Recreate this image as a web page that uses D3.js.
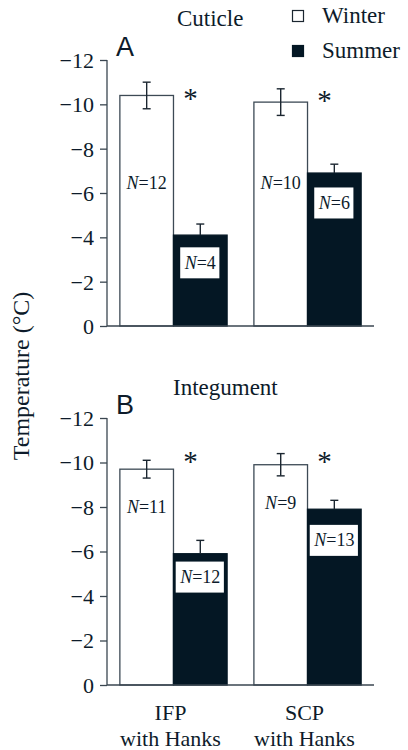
<!DOCTYPE html>
<html>
<head>
    <meta charset="utf-8">
    <title>Cuticle / Integument temperatures</title>
    <script src="https://d3js.org/d3.v7.min.js"></script>
    <style>
        body {
            margin: 0;
            background: #fff;
            overflow: hidden;
        }
        svg text {
            font-family: "Liberation Serif", "Times New Roman", serif;
            fill: #0d1b2a;
        }
        .axis path, .axis line {
            stroke: #3a4650;
            stroke-width: 1.3px;
        }
        svg text.panel-letter {
            font-family: "Liberation Sans", Arial, sans-serif;
        }
    </style>
</head>
<body>
    <svg width="408" height="750"></svg>

    <script>
    // data
    const groups = ["IFP", "SCP"];
    const seasons = ["Winter", "Summer"];
    const yTicks = [0, -2, -4, -6, -8, -10, -12];

    const cuticleWinter = [-10.4, -10.1];
    const cuticleWinterSE = [0.6, 0.6];
    const cuticleWinterN = [12, 10];
    const cuticleSummer = [-4.1, -6.9];
    const cuticleSummerSE = [0.5, 0.4];
    const cuticleSummerN = [4, 6];

    const integWinter = [-9.7, -9.9];
    const integWinterSE = [0.4, 0.5];
    const integWinterN = [11, 9];
    const integSummer = [-5.9, -7.9];
    const integSummerSE = [0.6, 0.4];
    const integSummerN = [12, 13];

    const dark = "#041724";
    const edge = "#3d4a55";

    let svg = d3.select("svg");

    // x scales shared by both panels
    let x = d3.scaleBand()
        .domain(groups)
        .range([107, 374])
        .paddingInner(0.2)
        .paddingOuter(0.096);
    let xs = d3.scaleBand()
        .domain(seasons)
        .range([0, x.bandwidth()]);

    // panel layout (label anchors are in temperature units)
    const panels = [
        {
            letter: "A", title: "Cuticle", yBottom: 326, yTop: 60,
            winter: cuticleWinter, winterSE: cuticleWinterSE, winterN: cuticleWinterN,
            summer: cuticleSummer, summerSE: cuticleSummerSE, summerN: cuticleSummerN,
            winterLabelAt: [-6.45, -6.45], summerLabelAt: [-2.85, -5.55],
            starAt: [-10.5, -10.4], titleX: 177, titleY: 26
        },
        {
            letter: "B", title: "Integument", yBottom: 685, yTop: 418,
            winter: integWinter, winterSE: integWinterSE, winterN: integWinterN,
            summer: integSummer, summerSE: integSummerSE, summerN: integSummerN,
            winterLabelAt: [-8.0, -8.2], summerLabelAt: [-4.85, -6.5],
            starAt: [-10.3, -10.3], titleX: 173, titleY: 395
        }
    ];

    panels.forEach(p => drawPanel(p));

    function drawPanel(p) {
        let y = d3.scaleLinear().domain([0, -12]).range([p.yBottom, p.yTop]);
        let g = svg.append("g");

        // title + panel letter
        g.append("text")
            .attr("x", p.titleX).attr("y", p.titleY)
            .style("font-size", "23px")
            .text(p.title);
        g.append("text")
            .attr("class", "panel-letter")
            .attr("x", 116).attr("y", p.yTop - 4)
            .style("font-size", "27px")
            .text(p.letter);

        // rows for bars
        let rows = [];
        groups.forEach((grp, i) => {
            rows.push({ grp, season: "Winter", v: p.winter[i], se: p.winterSE[i], n: p.winterN[i], lab: p.winterLabelAt[i] });
            rows.push({ grp, season: "Summer", v: p.summer[i], se: p.summerSE[i], n: p.summerN[i], lab: p.summerLabelAt[i] });
        });
        let bx = d => x(d.grp) + xs(d.season);

        // bars
        g.selectAll(".bar")
            .data(rows)
            .enter().append("rect")
            .attr("class", "bar")
            .attr("x", bx)
            .attr("y", d => y(d.v))
            .attr("width", xs.bandwidth())
            .attr("height", d => y(0) - y(d.v))
            .attr("fill", d => d.season === "Winter" ? "#fff" : dark)
            .attr("stroke", d => d.season === "Winter" ? edge : dark)
            .attr("stroke-width", 1.3);

        // error bars
        let eb = g.selectAll(".err")
            .data(rows)
            .enter().append("g")
            .attr("class", "err")
            .attr("stroke", "#1b2630")
            .attr("stroke-width", 1.4);
        eb.append("line")
            .attr("x1", d => bx(d) + xs.bandwidth() / 2)
            .attr("x2", d => bx(d) + xs.bandwidth() / 2)
            .attr("y1", d => d.season === "Winter" ? y(d.v + d.se) : y(d.v))
            .attr("y2", d => y(d.v - d.se));
        eb.append("line")
            .attr("x1", d => bx(d) + xs.bandwidth() / 2 - 4)
            .attr("x2", d => bx(d) + xs.bandwidth() / 2 + 4)
            .attr("y1", d => y(d.v - d.se))
            .attr("y2", d => y(d.v - d.se));
        eb.filter(d => d.season === "Winter").append("line")
            .attr("x1", d => bx(d) + xs.bandwidth() / 2 - 4)
            .attr("x2", d => bx(d) + xs.bandwidth() / 2 + 4)
            .attr("y1", d => y(d.v + d.se))
            .attr("y2", d => y(d.v + d.se));

        // N labels
        rows.forEach(d => {
            let cx = bx(d) + xs.bandwidth() / 2;
            let cy = y(d.lab);
            let t = g.append("text")
                .attr("x", cx)
                .attr("y", cy + 6)
                .attr("text-anchor", "middle")
                .style("font-size", "18px");
            t.append("tspan").style("font-style", "italic").text("N");
            t.append("tspan").text("=" + d.n);
            if (d.season === "Summer") {
                let bb = t.node().getBBox();
                g.insert("rect", () => t.node())
                    .attr("x", bb.x - 3.5)
                    .attr("y", cy - 15.5)
                    .attr("width", bb.width + 7)
                    .attr("height", 31)
                    .attr("fill", "#fff");
            }
        });

        // significance stars
        groups.forEach((grp, i) => {
            g.append("text")
                .attr("x", x(grp) + x.bandwidth() / 2 + 17)
                .attr("y", y(p.starAt[i]) + 15)
                .attr("text-anchor", "middle")
                .style("font-size", "29px")
                .text("*");
        });

        // axes
        g.append("g")
            .attr("class", "axis")
            .attr("transform", "translate(107,0)")
            .call(d3.axisLeft(y).tickValues(yTicks).tickSize(7).tickSizeOuter(0).tickPadding(6))
            .call(a => a.selectAll("text")
                .style("font-size", "22px")
                .attr("fill", "#0d1b2a")
                .attr("dy", "0.34em")
                .style("font-family", "'Liberation Serif', serif"))
            .call(a => a.select(".domain").attr("d", `M0,${y(0)}V${y(-12)}`));
        g.append("line")
            .attr("x1", 107).attr("x2", 374)
            .attr("y1", y(0)).attr("y2", y(0))
            .attr("stroke", "#3a4650")
            .attr("stroke-width", 1.3);
    }

    // x category labels
    groups.forEach(grp => {
        let cx = x(grp) + x.bandwidth() / 2 - 3;
        svg.append("text")
            .attr("x", cx).attr("y", 720)
            .attr("text-anchor", "middle")
            .style("font-size", "22px")
            .text(grp);
        svg.append("text")
            .attr("x", cx).attr("y", 746)
            .attr("text-anchor", "middle")
            .style("font-size", "22px")
            .text("with Hanks");
    });

    // y axis title
    svg.append("text")
        .attr("transform", "translate(29,376) rotate(-90)")
        .attr("text-anchor", "middle")
        .style("font-size", "24px")
        .text("Temperature (°C)");

    // legend
    let legend = svg.append("g").attr("transform", "translate(292,10)");
    seasons.forEach((s, i) => {
        legend.append("rect")
            .attr("x", 0.5).attr("y", i * 35 + 0.5)
            .attr("width", 11).attr("height", 11)
            .attr("fill", s === "Winter" ? "#fff" : dark)
            .attr("stroke", s === "Winter" ? "#1b2630" : dark)
            .attr("stroke-width", 1.2);
        legend.append("text")
            .attr("x", 30).attr("y", i * 35 + 13)
            .style("font-size", "23px")
            .text(s);
    });
    </script>
</body>
</html>
